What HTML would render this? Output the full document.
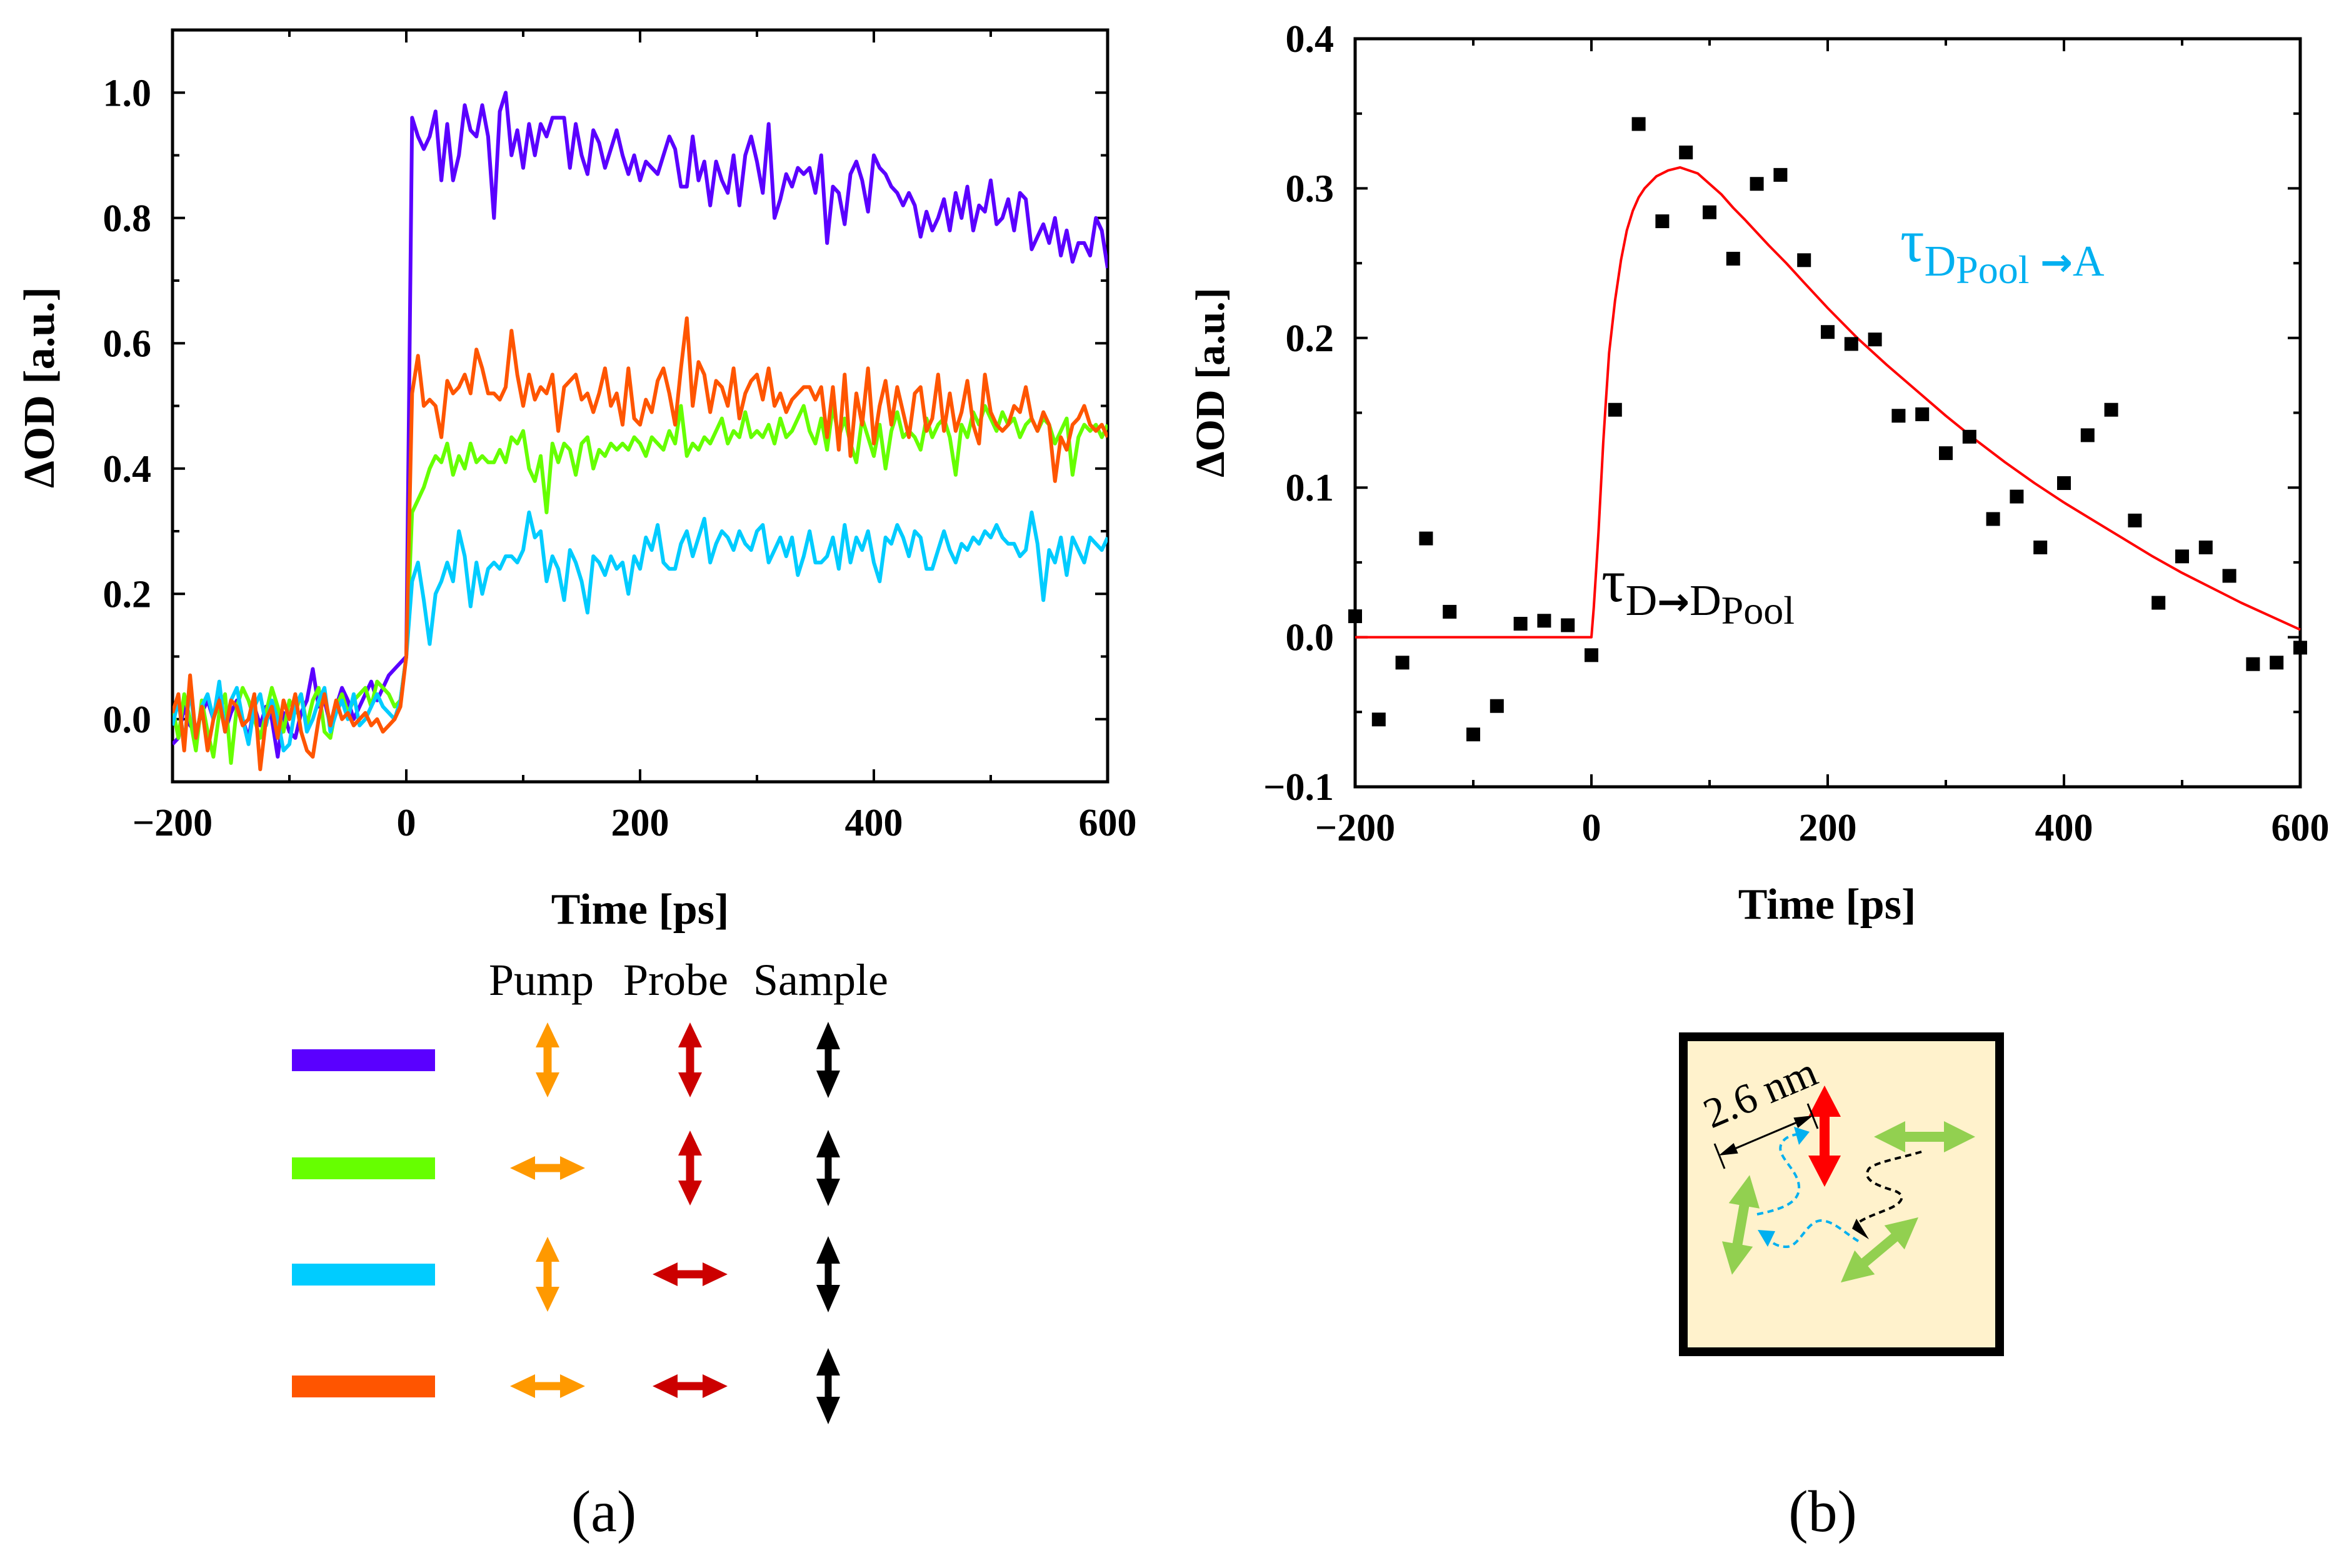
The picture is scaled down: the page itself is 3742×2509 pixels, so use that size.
<!DOCTYPE html>
<html><head><meta charset="utf-8"><style>
html,body{margin:0;padding:0;background:#fff}
svg{display:block}
text{font-family:"Liberation Serif",serif}
</style></head><body>
<svg id="fig" width="3742" height="2509" viewBox="0 0 3742 2509" xmlns="http://www.w3.org/2000/svg">
<g id="left"></g>
<g id="right"></g>
<g id="legend">
<text x="866" y="1592" font-size="72" text-anchor="middle">Pump</text>
<text x="1081" y="1592" font-size="72" text-anchor="middle">Probe</text>
<text x="1313" y="1592" font-size="72" text-anchor="middle">Sample</text>
</g>
<text x="966" y="2450" font-size="94" text-anchor="middle">(a)</text>
<text x="2916" y="2450" font-size="94" text-anchor="middle">(b)</text>
<g id="inset">
<rect x="2693" y="1659" width="506" height="504" fill="#fff2cc" stroke="#000" stroke-width="14"/>
<path d="M2811,1943 C2850,1935 2880,1925 2878,1898 C2876,1870 2840,1850 2850,1830 C2856,1818 2870,1815 2885,1814" fill="none" stroke="#00b0f0" stroke-width="4" stroke-dasharray="10,7"/>
<path d="M2973,1986 C2950,1972 2935,1955 2915,1953 C2890,1952 2880,1995 2858,1995 C2840,1995 2830,1985 2822,1975" fill="none" stroke="#00b0f0" stroke-width="4" stroke-dasharray="10,7"/>
<path d="M3074,1843 C3040,1853 3000,1860 2990,1870 C2980,1885 2995,1895 3030,1905 C3050,1912 3045,1925 3020,1935 C2995,1945 2980,1950 2968,1960" fill="none" stroke="#000" stroke-width="4" stroke-dasharray="10,7"/>
<text x="0" y="0" font-size="68" transform="translate(2738,1806) rotate(-23)">2.6 nm</text>
</g>
</svg>
<script>
// ---------- Panel (a) data ----------
var timesA = [];
for (var k = -200; k <= 600; k += 5) timesA.push(k);
var purpleVals = [-0.04,-0.03,0.02,-0.01,-0.02,0.01,0.03,0.00,0.04,-0.02,0.01,0.03,0.00,-0.03,0.02,-0.01,0.02,0.00,-0.06,0.01,-0.02,-0.03,0.01,0.03,0.08,0.02,0.03,-0.01,0.02,0.05,0.03,0.00,0.02,0.04,0.06,0.03,0.05,0.07,0.08,0.09,
0.10,0.96,0.93,0.91,0.93,0.97,0.86,0.95,0.86,0.90,0.98,0.94,0.93,0.98,0.93,0.80,0.97,1.00,0.90,0.94,0.88,0.95,0.90,0.95,0.93,0.96,0.96,0.96,0.88,0.95,0.90,0.87,0.94,0.92,0.88,0.91,0.94,0.90,0.87,0.90,0.86,0.89,0.88,0.87,0.90,0.93,0.91,0.85,0.85,0.93,0.86,0.89,0.82,0.89,0.86,0.84,0.90,0.82,0.90,0.93,0.89,0.84,0.95,0.80,0.83,0.87,0.85,0.88,0.87,0.88,0.84,0.90,0.76,0.85,0.84,0.79,0.87,0.89,0.86,0.81,0.90,0.88,0.87,0.85,0.84,0.82,0.84,0.82,0.77,0.81,0.78,0.80,0.83,0.78,0.84,0.80,0.85,0.78,0.82,0.81,0.86,0.79,0.80,0.83,0.78,0.84,0.83,0.75,0.77,0.79,0.76,0.80,0.74,0.78,0.73,0.76,0.76,0.74,0.80,0.78,0.72];
var greenVals = [0.02,-0.03,0.04,0.0,-0.05,0.03,-0.02,-0.06,0.01,0.04,-0.07,0.02,0.05,0.03,0.0,-0.03,0.01,0.05,0.02,-0.02,0.03,0.01,0.04,-0.01,0.03,0.05,-0.02,-0.03,0.02,0.04,0.01,0.03,0.04,0.05,0.02,0.06,0.05,0.04,0.02,0.03,
0.10,0.33,0.35,0.37,0.40,0.42,0.41,0.44,0.39,0.42,0.40,0.44,0.41,0.42,0.41,0.41,0.43,0.41,0.45,0.44,0.46,0.40,0.38,0.42,0.33,0.44,0.41,0.44,0.43,0.39,0.44,0.45,0.40,0.43,0.42,0.44,0.43,0.44,0.43,0.45,0.44,0.42,0.45,0.44,0.43,0.46,0.44,0.50,0.42,0.44,0.43,0.45,0.44,0.46,0.48,0.44,0.46,0.45,0.49,0.45,0.46,0.45,0.47,0.44,0.48,0.45,0.46,0.48,0.50,0.46,0.44,0.48,0.43,0.50,0.45,0.48,0.44,0.41,0.48,0.45,0.42,0.47,0.40,0.46,0.49,0.45,0.46,0.45,0.43,0.48,0.45,0.47,0.48,0.45,0.39,0.47,0.45,0.49,0.47,0.50,0.48,0.46,0.49,0.47,0.48,0.45,0.47,0.48,0.46,0.48,0.47,0.44,0.46,0.48,0.39,0.45,0.47,0.46,0.47,0.45,0.47];
var cyanVals = [-0.01,0.03,-0.04,0.05,-0.03,0.02,0.04,0.0,0.06,-0.02,0.03,0.05,0.0,-0.04,0.02,0.04,-0.01,0.03,0.0,-0.05,-0.04,0.02,0.04,-0.02,0.0,0.03,0.05,-0.02,0.01,0.03,0.0,0.04,-0.01,0.0,0.02,0.04,0.02,0.01,0.0,0.03,
0.10,0.22,0.25,0.19,0.12,0.20,0.22,0.25,0.22,0.30,0.26,0.18,0.25,0.20,0.24,0.25,0.24,0.26,0.26,0.25,0.27,0.33,0.29,0.30,0.22,0.26,0.24,0.19,0.27,0.25,0.22,0.17,0.26,0.25,0.23,0.26,0.24,0.25,0.20,0.26,0.24,0.29,0.27,0.31,0.25,0.24,0.24,0.28,0.30,0.26,0.29,0.32,0.25,0.28,0.30,0.29,0.27,0.30,0.28,0.27,0.30,0.31,0.25,0.27,0.29,0.26,0.29,0.23,0.26,0.30,0.25,0.25,0.26,0.29,0.24,0.31,0.25,0.29,0.27,0.30,0.25,0.22,0.29,0.28,0.31,0.29,0.26,0.30,0.29,0.24,0.24,0.27,0.30,0.27,0.25,0.28,0.27,0.29,0.28,0.30,0.29,0.31,0.29,0.28,0.28,0.26,0.27,0.33,0.28,0.19,0.27,0.25,0.29,0.23,0.29,0.27,0.25,0.29,0.28,0.27,0.29];
var orangeVals = [0.01,0.04,-0.05,0.07,-0.03,0.02,-0.05,0.0,0.03,-0.02,0.03,0.02,-0.01,0.0,0.04,-0.08,0.0,0.02,-0.03,0.03,0.0,0.04,-0.02,-0.05,-0.06,0.0,0.04,-0.01,0.03,0.0,0.01,-0.01,0.0,0.01,-0.01,0.0,-0.02,-0.01,0.0,0.02,
0.10,0.52,0.58,0.50,0.51,0.50,0.45,0.54,0.52,0.53,0.55,0.52,0.59,0.56,0.52,0.52,0.51,0.53,0.62,0.55,0.50,0.55,0.51,0.53,0.52,0.55,0.46,0.53,0.54,0.55,0.51,0.52,0.49,0.52,0.56,0.50,0.52,0.47,0.56,0.48,0.47,0.51,0.49,0.54,0.56,0.52,0.47,0.56,0.64,0.50,0.57,0.55,0.49,0.54,0.53,0.50,0.56,0.48,0.52,0.54,0.55,0.51,0.56,0.50,0.52,0.49,0.51,0.52,0.53,0.53,0.51,0.53,0.45,0.53,0.43,0.55,0.42,0.52,0.47,0.56,0.44,0.50,0.54,0.47,0.53,0.49,0.45,0.52,0.53,0.46,0.48,0.55,0.46,0.52,0.46,0.49,0.54,0.47,0.44,0.55,0.49,0.47,0.46,0.47,0.50,0.49,0.53,0.48,0.46,0.49,0.47,0.38,0.45,0.43,0.47,0.48,0.50,0.47,0.46,0.47,0.45];
var seriesColorsA = ["#5a00ff","#66ff00","#00ccff","#ff5500"];
var xTicksA = [-200,0,200,400,600];
var xTickLabelsA = ["\u2212200","0","200","400","600"];
var yTicksA = [0.0,0.2,0.4,0.6,0.8,1.0];
var yTickLabelsA = ["0.0","0.2","0.4","0.6","0.8","1.0"];

// ---------- Panel (b) data ----------
var timesB = [-200,-180,-160,-140,-120,-100,-80,-60,-40,-20,0,20,40,60,80,100,120,140,160,180,200,220,240,260,280,300,320,340,360,380,400,420,440,460,480,500,520,540,560,580,600];
var valsB = [0.014,-0.055,-0.017,0.066,0.017,-0.065,-0.046,0.009,0.011,0.008,-0.012,0.152,0.343,0.278,0.324,0.284,0.253,0.303,0.309,0.252,0.204,0.196,0.199,0.148,0.149,0.123,0.134,0.079,0.094,0.060,0.103,0.135,0.152,0.078,0.023,0.054,0.060,0.041,-0.018,-0.017,-0.007];
var fitTimes = [-200,0,2,4,6,8,10,12,15,20,25,30,35,40,45,55,65,75,90,100,110,120,130,150,165,180,200,225,250,275,300,325,350,375,400,425,450,475,500,525,550,575,600];
var fitVals = [0,0,0.02,0.045,0.07,0.10,0.13,0.155,0.19,0.225,0.252,0.272,0.285,0.294,0.300,0.308,0.312,0.314,0.31,0.303,0.296,0.287,0.279,0.262,0.25,0.237,0.22,0.2,0.182,0.165,0.148,0.132,0.117,0.103,0.09,0.078,0.066,0.054,0.043,0.033,0.023,0.014,0.005];
var xTicksB = [-200,0,200,400,600];
var xTickLabelsB = ["\u2212200","0","200","400","600"];
var yTicksB = [-0.1,0.0,0.1,0.2,0.3,0.4];
var yTickLabelsB = ["\u22120.1","0.0","0.1","0.2","0.3","0.4"];

var NS = "http://www.w3.org/2000/svg";
function mk(parent, tag, attrs) {
  var e = document.createElementNS(NS, tag);
  for (var a in attrs) e.setAttribute(a, attrs[a]);
  parent.appendChild(e);
  return e;
}

function drawAxes(g, L, R, T, B, xmin, xmax, ymin, ymax, xt, xtl, yt, ytl, xMinor, yMinor, prefix) {
  var sx = function (t) { return L + (t - xmin) / (xmax - xmin) * (R - L); };
  var sy = function (v) { return B - (v - ymin) / (ymax - ymin) * (B - T); };
  var frame = mk(g, "rect", {x: L, y: T, width: R - L, height: B - T, fill: "none", stroke: "#000", "stroke-width": 5});
  
  
  var ticks = "";
  for (var t = xmin; t <= xmax + 1e-9; t += xMinor) {
    var major = xt.some(function (m) { return Math.abs(m - t) < 1e-6; });
    var len = major ? 20 : 11, x = sx(t);
    ticks += "M" + x + "," + B + "v" + (-len) + "M" + x + "," + T + "v" + len;
  }
  for (var v = ymin; v <= ymax + 1e-9; v += yMinor) {
    var majorY = yt.some(function (m) { return Math.abs(m - v) < 1e-6; });
    var lenY = majorY ? 20 : 11, y = sy(v);
    ticks += "M" + L + "," + y + "h" + lenY + "M" + R + "," + y + "h" + (-lenY);
  }
  var tp = mk(g, "path", {d: ticks, stroke: "#000", "stroke-width": 4, fill: "none"});
  
  
  xt.forEach(function (t, i) {
    var tx = mk(g, "text", {x: sx(t), y: B + 86, "font-size": 62, "font-weight": "bold", "text-anchor": "middle"});
    tx.textContent = xtl[i];
    
    
  });
  yt.forEach(function (v, i) {
    var ty = mk(g, "text", {x: L - 34, y: sy(v) + 21, "font-size": 62, "font-weight": "bold", "text-anchor": "end"});
    ty.textContent = ytl[i];
    
    
  });
  return {sx: sx, sy: sy};
}

// Panel (a)
(function () {
  var g = document.getElementById("left");
  var L = 276, R = 1772, T = 48, B = 1251;
  var ax = drawAxes(g, L, R, T, B, -200, 600, -0.1, 1.1, xTicksA, xTickLabelsA, yTicksA, yTickLabelsA, 100, 0.1, "panel-a");
  var all = [purpleVals, greenVals, cyanVals, orangeVals];
  var names = ["series-purple", "series-green", "series-cyan", "series-orange"];
  var clip = mk(g, "clipPath", {id: "clipA"});
  mk(clip, "rect", {x: L, y: T, width: R - L, height: B - T});
  all.forEach(function (vals, si) {
    var d = "";
    vals.forEach(function (v, i) { d += (i ? "L" : "M") + ax.sx(timesA[i]).toFixed(1) + "," + ax.sy(v).toFixed(1); });
    var p = mk(g, "path", {d: d, fill: "none", stroke: seriesColorsA[si], "stroke-width": 6, "stroke-linejoin": "round", "clip-path": "url(#clipA)"});
    
    
  });
  var yl = mk(g, "text", {x: 0, y: 0, "font-size": 70, "font-weight": "bold", "text-anchor": "middle", transform: "translate(86,620) rotate(-90)"});
  yl.textContent = "\u0394OD [a.u.]";
  
  
  var xl = mk(g, "text", {x: 1024, y: 1478, "font-size": 70, "font-weight": "bold", "text-anchor": "middle"});
  xl.textContent = "Time [ps]";
  
  
})();

// Panel (b)
(function () {
  var g = document.getElementById("right");
  var L = 2168, R = 3680, T = 62, B = 1259;
  var ax = drawAxes(g, L, R, T, B, -200, 600, -0.1, 0.4, xTicksB, xTickLabelsB, yTicksB, yTickLabelsB, 100, 0.05, "panel-b");
  var d = "";
  fitTimes.forEach(function (t, i) { d += (i ? "L" : "M") + ax.sx(t).toFixed(1) + "," + ax.sy(fitVals[i]).toFixed(1); });
  var fit = mk(g, "path", {d: d, fill: "none", stroke: "#ff0000", "stroke-width": 4, "stroke-linejoin": "round"});
  
  
  timesB.forEach(function (t, i) {
    var s = mk(g, "rect", {x: ax.sx(t) - 11, y: ax.sy(valsB[i]) - 11, width: 22, height: 22, fill: "#000"});
    
    
  });
  var yl = mk(g, "text", {x: 0, y: 0, "font-size": 66, "font-weight": "bold", "text-anchor": "middle", transform: "translate(1958,612) rotate(-90)"});
  yl.textContent = "\u0394OD [a.u.]";
  
  
  var xl = mk(g, "text", {x: 2923, y: 1470, "font-size": 70, "font-weight": "bold", "text-anchor": "middle"});
  xl.textContent = "Time [ps]";
  
  
  // annotations
  var a1 = mk(g, "text", {x: 2562, y: 962, "font-size": 96, fill: "#000"});
  a1.innerHTML = '\u03c4<tspan font-size="70" dy="22">D</tspan><tspan font-family="DejaVu Sans" font-weight="bold" font-size="62">\u2192</tspan><tspan font-size="70">D</tspan><tspan font-size="64" dy="14">Pool</tspan>';
  
  
  var a2 = mk(g, "text", {x: 3040, y: 418, "font-size": 96, fill: "#00b0f0"});
  a2.innerHTML = '\u03c4<tspan font-size="70" dy="23">D</tspan><tspan font-size="64" dy="12">Pool</tspan><tspan font-size="70" dy="-12"> </tspan><tspan font-family="DejaVu Sans" font-weight="bold" font-size="62">\u2192</tspan><tspan font-size="70">A</tspan>';
  
  
})();

// double arrow helper: centred at cx,cy, along angle
function dblArrow(parent, cx, cy, len, ang, shaft, headW, headL, color, name) {
  var h = len / 2, s = shaft / 2, w = headW / 2;
  var pts = [[-h,0],[-h+headL,-w],[-h+headL,-s],[h-headL,-s],[h-headL,-w],[h,0],[h-headL,w],[h-headL,s],[-h+headL,s],[-h+headL,w]];
  var p = mk(parent, "polygon", {points: pts.map(function (q) { return q[0] + "," + q[1]; }).join(" "), fill: color, transform: "translate(" + cx + "," + cy + ") rotate(" + ang + ")"});
  
  
  return p;
}

// Legend
var legendRowsY = [1696, 1869, 2039, 2218];
var pumpAngles = [90, 0, 90, 0];
var probeAngles = [90, 90, 0, 0];
(function () {
  var g = document.getElementById("legend");
  legendRowsY.forEach(function (y, i) {
    var r = mk(g, "rect", {x: 467, y: y - 17, width: 229, height: 35, fill: seriesColorsA[i]});
    
    
    dblArrow(g, 876, y, 120, pumpAngles[i], 13, 38, 40, "#ff9900", "pump-polarization-arrow");
    dblArrow(g, 1104, y, 120, probeAngles[i], 13, 38, 40, "#cc0000", "probe-polarization-arrow");
    dblArrow(g, 1325, y, 122, 90, 11, 38, 44, "#000", "sample-orientation-arrow");
  });
})();

// Inset arrows
(function () {
  var g = document.getElementById("inset");
  dblArrow(g, 2919, 1818, 162, 90, 16, 52, 50, "#ff0000", "probe-dipole-arrow");
  dblArrow(g, 3079, 1819, 162, 0, 16, 50, 50, "#92d050", "donor-dipole-arrow");
  dblArrow(g, 2785, 1960, 162, -80, 16, 50, 50, "#92d050", "donor-dipole-arrow");
  dblArrow(g, 3007, 2000, 162, -40, 16, 50, 50, "#92d050", "donor-dipole-arrow");
  dblArrow(g, 2825, 1817, 164, -23, 3, 18, 30, "#000", "distance-arrow");
  var bars = mk(g, "path", {d: "M2743,1830 L2759,1870 M2892,1766 L2908,1806", stroke: "#000", "stroke-width": 3});
  
  
  var h1 = mk(g, "polygon", {points: "2895,1811 2870,1803 2878,1832", fill: "#00b0f0"});
  
  
  var h2 = mk(g, "polygon", {points: "2812,1968 2840,1970 2828,1995", fill: "#00b0f0"});
  
  
  var h3 = mk(g, "polygon", {points: "2963,1966 2970,1950 2990,1983", fill: "#000"});
  
  
})();
</script>
</body></html>
